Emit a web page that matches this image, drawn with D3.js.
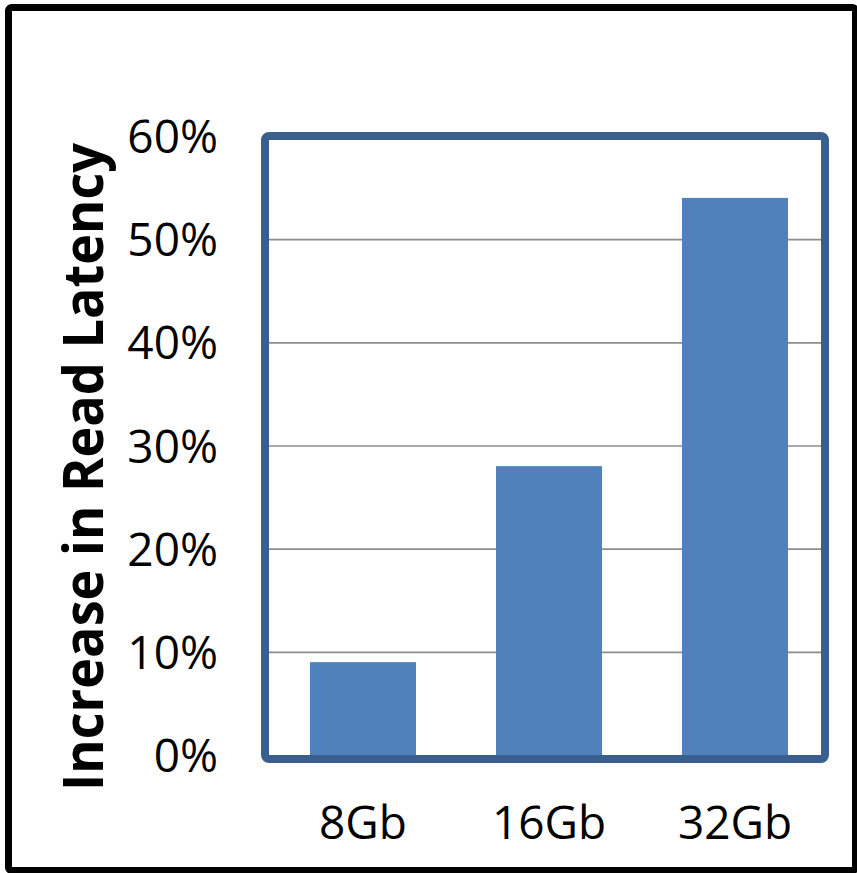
<!DOCTYPE html>
<html>
<head>
<meta charset="utf-8">
<script src="https://cdn.jsdelivr.net/npm/d3@7"></script>
<style>
  body { margin: 0; background: #fff; }
  svg { display: block; }
</style>
</head>
<body>
<div id="chart-area"></div>
<script>
// Data
var categories = ["8Gb", "16Gb", "32Gb"];
var latencyIncrease = [0.09, 0.28, 0.54];
var yTicks = [0, 0.1, 0.2, 0.3, 0.4, 0.5, 0.6];
var yTitle = "Increase in Read Latency";

var W = 857, H = 873;
var plot = { left: 265, right: 825, top: 136, bottom: 755 };

var svg = d3.select("#chart-area")
  .append("svg")
    .attr("width", W)
    .attr("height", H);

// outer black frame
svg.append("rect")
  .attr("x", 8.5).attr("y", 7.5)
  .attr("width", 847).attr("height", 863)
  .attr("rx", 3)
  .attr("fill", "#fff")
  .attr("stroke", "#000")
  .attr("stroke-width", 7);

var x = d3.scaleBand()
  .domain(categories)
  .range([270, 828])
  .paddingInner(0.43)
  .paddingOuter(0.215);

var y = d3.scaleLinear()
  .domain([0, 0.6])
  .range([plot.bottom, plot.top]);

// gridlines
var grid = svg.append("g")
  .attr("transform", "translate(" + (plot.left + 4) + ",0)")
  .call(d3.axisLeft(y)
    .tickValues(yTicks.slice(1, -1))
    .tickSize(-(plot.right - plot.left - 8))
    .tickFormat(""));
grid.select(".domain").remove();
grid.selectAll("line")
  .attr("stroke", "#8c8c8c")
  .attr("stroke-width", 1.6);

// bars
svg.selectAll("rect.bar")
  .data(latencyIncrease)
  .enter()
  .append("rect")
    .attr("class", "bar")
    .attr("x", function (d, i) { return x(categories[i]); })
    .attr("width", x.bandwidth())
    .attr("y", function (d) { return y(d); })
    .attr("height", function (d) { return y(0) - y(d); })
    .attr("fill", "#4f81bd");

// plot frame
svg.append("rect")
  .attr("x", plot.left)
  .attr("y", y(0.6))
  .attr("width", plot.right - plot.left)
  .attr("height", y(0) - y(0.6) + 4)
  .attr("rx", 4)
  .attr("fill", "none")
  .attr("stroke", "#3a5f8c")
  .attr("stroke-width", 8);

// Y axis labels
var yAxis = svg.append("g")
  .attr("transform", "translate(" + plot.left + ",0)")
  .call(d3.axisLeft(y)
    .tickValues(yTicks)
    .tickSize(0)
    .tickPadding(47)
    .tickFormat(d3.format(".0%")));
yAxis.select(".domain").remove();
yAxis.selectAll("text")
  .attr("dy", "0.36em")
  .attr("font-family", "'Open Sans', sans-serif")
  .attr("font-size", "46px")
  .attr("fill", "#000");

// X axis labels
var xAxis = svg.append("g")
  .attr("transform", "translate(0," + (plot.bottom + 4) + ")")
  .call(d3.axisBottom(x).tickSize(0));
xAxis.select(".domain").remove();
xAxis.selectAll("text")
  .attr("y", 80)
  .attr("dy", null)
  .attr("font-family", "'Open Sans', sans-serif")
  .attr("font-size", "46px")
  .attr("fill", "#000");

// Y title
svg.append("text")
  .attr("transform", "translate(103,467) rotate(-90)")
  .attr("text-anchor", "middle")
  .attr("font-family", "'Open Sans', sans-serif")
  .attr("font-weight", "bold")
  .attr("font-size", "56px")
  .attr("textLength", 648)
  .attr("lengthAdjust", "spacingAndGlyphs")
  .text(yTitle);
</script>
</body>
</html>
